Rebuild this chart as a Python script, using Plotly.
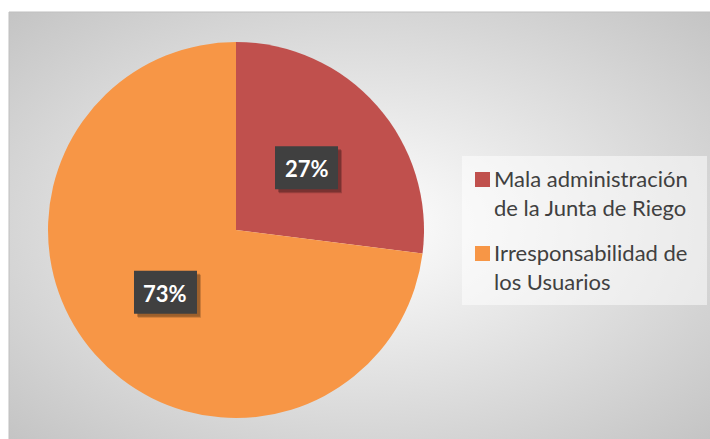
import base64
import math
import plotly.graph_objects as go

# ---- data ----
categories = ["Mala administración<br>de la Junta de Riego", "Irresponsabilidad de<br>los Usuarios"]
values = [27, 73]
colors = ["#C0504D", "#F79646"]

W, H = 710, 439


def px2x(px):
    return px / W


def px2y(py):
    return 1 - py / H


# background radial gradient (chart area style)
svg = (
    '<svg xmlns="http://www.w3.org/2000/svg" width="701" height="427" viewBox="0 0 701 427" preserveAspectRatio="none">'
    '<defs><radialGradient id="g" cx="0.5" cy="0.5" r="0.72" gradientUnits="objectBoundingBox">'
    '<stop offset="0" stop-color="#ffffff"/><stop offset="1" stop-color="#c3c3c3"/>'
    '</radialGradient></defs><rect x="0" y="0" width="701" height="427" fill="url(#g)"/></svg>'
)
src = "data:image/svg+xml;base64," + base64.b64encode(svg.encode()).decode()

# pie geometry (pixels)
cx, cy, R = 236, 230, 188
dom_x = [px2x(cx - R), px2x(cx + R)]
dom_y = [px2y(cy + R), px2y(cy - R)]

fig = go.Figure()
fig.add_trace(go.Pie(
    labels=[c.replace("<br>", " ") for c in categories], values=values, sort=False,
    direction="clockwise", rotation=0,
    marker=dict(colors=colors, line=dict(width=0)),
    textinfo="none", hoverinfo="none", domain=dict(x=dom_x, y=dom_y), showlegend=False,
))

shapes = [
    dict(type="line", xref="paper", yref="paper", x0=px2x(9), x1=1, y0=px2y(12), y1=px2y(12),
         line=dict(color="#bfbfbf", width=1)),
    dict(type="line", xref="paper", yref="paper", x0=px2x(9), x1=px2x(9), y0=0, y1=px2y(12),
         line=dict(color="#bfbfbf", width=1)),
]
annotations = []

# data labels placed at mid-angle of each slice
total = sum(values)
bw, bh = 63, 43
cum = 0
for v in values:
    mid = (cum + v / 2) / total * 2 * math.pi
    cum += v
    px = cx + 0.5 * R * math.sin(mid)
    py = cy - 0.5 * R * math.cos(mid)
    for off, col in ((4, "rgba(0,0,0,0.18)"), (3, "rgba(0,0,0,0.22)")):
        shapes.append(dict(type="rect", xref="paper", yref="paper",
                           x0=px2x(px - bw / 2 + off), x1=px2x(px + bw / 2 + off),
                           y0=px2y(py + bh / 2 + off), y1=px2y(py - bh / 2 + off),
                           fillcolor=col, line=dict(width=0)))
    shapes.append(dict(type="rect", xref="paper", yref="paper",
                       x0=px2x(px - bw / 2), x1=px2x(px + bw / 2),
                       y0=px2y(py + bh / 2), y1=px2y(py - bh / 2),
                       fillcolor="#404040", line=dict(width=0)))
    annotations.append(dict(
        x=px2x(px), y=px2y(py + 1), xref="paper", yref="paper",
        xanchor="center", yanchor="middle",
        text=f"<b>{round(v / total * 100)}%</b>", showarrow=False,
        font=dict(size=22, family="Lato", color="white"),
    ))

# legend (box, colour keys, labels)
lg_x0, lg_x1, lg_y0, lg_y1 = 462, 707, 156, 305
shapes.append(dict(type="rect", xref="paper", yref="paper",
                   x0=px2x(lg_x0), x1=px2x(lg_x1), y0=px2y(lg_y1), y1=px2y(lg_y0),
                   fillcolor="rgba(255,255,255,0.5)", line=dict(width=0)))
item_top = [172, 246]
for cat, col, top in zip(categories, colors, item_top):
    shapes.append(dict(type="rect", xref="paper", yref="paper",
                       x0=px2x(475), x1=px2x(490), y0=px2y(top + 15), y1=px2y(top),
                       fillcolor=col, line=dict(width=0)))
    annotations.append(dict(
        x=px2x(492), y=px2y(top - 9), xref="paper", yref="paper", xanchor="left", yanchor="top",
        align="left", text=cat, showarrow=False,
        font=dict(size=22, family="Lato", color="#404040"),
    ))

fig.update_layout(
    width=W, height=H, margin=dict(l=0, r=0, t=0, b=0),
    paper_bgcolor="white", plot_bgcolor="white",
    images=[dict(source=src, xref="paper", yref="paper", x=px2x(9), y=px2y(12),
                 sizex=1 - px2x(9), sizey=px2y(12), sizing="stretch",
                 xanchor="left", yanchor="top", layer="below")],
    shapes=shapes,
    annotations=annotations,
    showlegend=False,
)

fig.write_html("out.html", config={"displayModeBar": False},
               post_script="document.body.style.margin='0';document.body.style.overflow='hidden';")
